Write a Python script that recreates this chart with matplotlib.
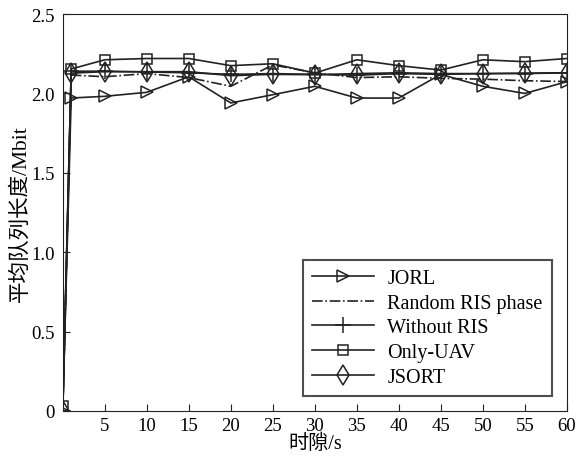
import matplotlib
matplotlib.use('Agg')
import matplotlib.pyplot as plt

# data
t = [0, 1, 5, 10, 15, 20, 25, 30, 35, 40, 45, 50, 55, 60]
jorl = [0, 1.971, 1.982, 2.007, 2.105, 1.94, 1.992, 2.045, 1.971, 1.971, 2.12, 2.045, 2.0, 2.074]
random_ris = [0, 2.116, 2.105, 2.125, 2.1, 2.045, 2.18, 2.13, 2.1, 2.105, 2.095, 2.09, 2.08, 2.075]
without_ris = [0, 2.14, 2.14, 2.135, 2.13, 2.12, 2.125, 2.12, 2.115, 2.125, 2.12, 2.125, 2.125, 2.13]
only_uav = [0.03, 2.154, 2.212, 2.22, 2.22, 2.175, 2.187, 2.128, 2.212, 2.175, 2.147, 2.212, 2.2, 2.22]
jsort = [0, 2.128, 2.137, 2.137, 2.137, 2.112, 2.12, 2.118, 2.125, 2.13, 2.125, 2.125, 2.128, 2.13]

xticks_ = [5, 10, 15, 20, 25, 30, 35, 40, 45, 50, 55, 60]
yticks_ = [0, 0.5, 1.0, 1.5, 2.0, 2.5]
ytick_labels = ['0', '0.5', '1.0', '1.5', '2.0', '2.5']

plt.rcParams['font.family'] = ['Liberation Serif', 'Noto Sans CJK SC']
plt.rcParams['xtick.direction'] = 'in'
plt.rcParams['ytick.direction'] = 'in'

fig = plt.figure(figsize=(5.76, 4.56), dpi=100)
ax = fig.add_axes([0.109, 0.0965, 0.875, 0.8705])

c = '#222222'
ax.plot(t, jorl, '-', marker='>', label='JORL', color=c, linewidth=1.2,
        markersize=9, fillstyle='none', markeredgewidth=1.1)
ax.plot(t, random_ris, '-.', label='Random RIS phase', color=c, linewidth=1.2)
ax.plot(t, without_ris, '-', marker='+', label='Without RIS', color=c, linewidth=1.2,
        markersize=11, markeredgewidth=1.1)
ax.plot(t, only_uav, '-', marker='s', label='Only-UAV', color=c, linewidth=1.2,
        markersize=7, fillstyle='none', markeredgewidth=1.1)
ax.plot(t, jsort, '-', marker='d', label='JSORT', color=c, linewidth=1.2,
        markersize=10, fillstyle='none', markeredgewidth=1.1)

ax.set_xlim([0, 60])
ax.set_ylim([0, 2.5])
ax.set_xticks(xticks_)
ax.set_yticks(yticks_)
ax.set_yticklabels(ytick_labels)
ax.tick_params(labelsize=13.5, length=5, color=c)
ax.tick_params(axis='x', pad=4)
ax.tick_params(axis='y', pad=6)
for s in ax.spines.values():
    s.set_color(c)

ax.set_xlabel('时隙/s', fontsize=14.5, labelpad=0)
ax.set_ylabel('平均队列长度/Mbit', fontsize=15.5, labelpad=0)

leg = ax.legend(loc='lower right', fontsize=14.5, handlelength=3.1, handletextpad=0.65,
                frameon=True, fancybox=False, edgecolor=c, borderaxespad=0.75,
                labelspacing=0.28, borderpad=0.45)
leg.get_frame().set_linewidth(1.5)

plt.savefig('out.png', dpi=100)
